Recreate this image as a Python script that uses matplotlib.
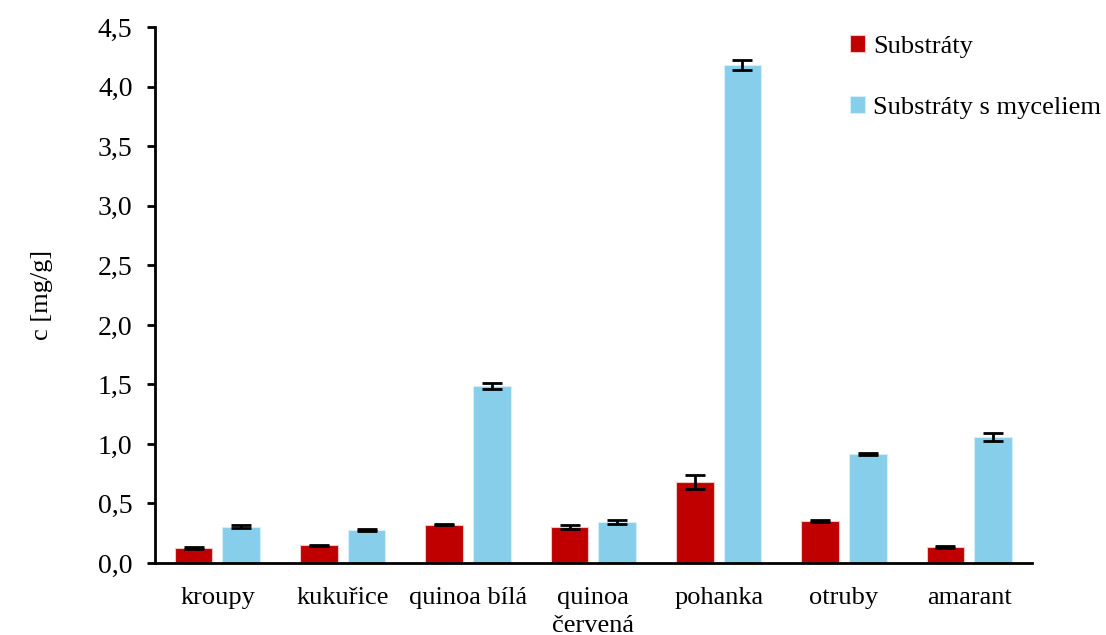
import numpy as np
import matplotlib.pyplot as plt
import matplotlib.ticker as ticker

plt.rcParams['font.family'] = ['Liberation Serif', 'DejaVu Serif']

# data
categories = ["kroupy", "kukuřice", "quinoa bílá", "quinoa\nčervená", "pohanka", "otruby", "amarant"]
substraty = [0.125, 0.148, 0.322, 0.300, 0.680, 0.353, 0.135]
substraty_err = [0.006, 0.006, 0.005, 0.015, 0.060, 0.010, 0.008]
mycelium = [0.305, 0.277, 1.485, 0.345, 4.185, 0.915, 1.060]
mycelium_err = [0.010, 0.010, 0.025, 0.020, 0.040, 0.010, 0.035]

x = np.arange(len(categories))
w = 0.30
off = 0.19

fig = plt.figure(figsize=(11.06, 6.35), dpi=100)
ax = fig.add_axes([0.140, 0.1134, 0.793, 0.8436])

ekw = dict(ecolor='black', elinewidth=2, capsize=7, capthick=2)
ax.bar(x - off, substraty, w, yerr=substraty_err, color='#C00000',
       edgecolor='#f2c4c4', linewidth=0.8, label='Substráty', error_kw=ekw)
ax.bar(x + off, mycelium, w, yerr=mycelium_err, color='#87CEEB',
       edgecolor='#d6eef8', linewidth=0.8, label='Substráty s myceliem', error_kw=ekw)

ax.set_xlim(-0.5, len(categories) - 0.5)
ax.set_ylim(0, 4.5)
ax.yaxis.set_major_locator(ticker.MultipleLocator(0.5))
ax.yaxis.set_major_formatter(ticker.FuncFormatter(lambda v, p: f"{v:.1f}".replace('.', ',')))
ax.set_xticks(x)
ax.set_xticklabels(categories, fontsize=19, linespacing=1.35)
ax.tick_params(axis='x', length=0, pad=17)
ax.tick_params(axis='y', labelsize=20, length=6, width=2, direction='out', pad=10)
ax.set_ylabel('c [mg/g]', fontsize=19, labelpad=32)

for s in ['top', 'right']:
    ax.spines[s].set_visible(False)
for s in ['left', 'bottom']:
    ax.spines[s].set_linewidth(2)

ax.legend(loc='upper left', bbox_to_anchor=(0.765, 1.03), frameon=False, fontsize=19,
          handlelength=0.6, handleheight=0.6, handletextpad=0.3, labelspacing=1.45)

fig.savefig('out.png', dpi=100)
